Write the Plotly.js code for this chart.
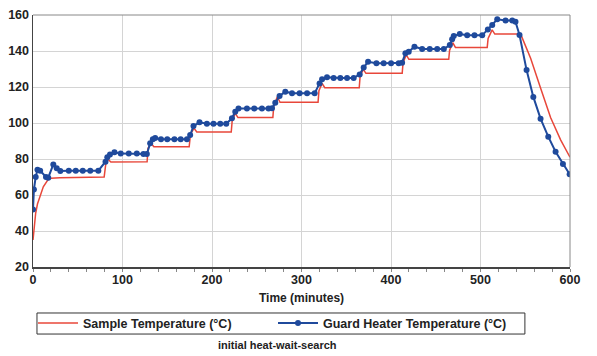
<!DOCTYPE html>
<html>
<head>
<meta charset="utf-8">
<script src="https://cdn.plot.ly/plotly-3.0.1.min.js"></script>
<style>html,body{margin:0;padding:0;background:#fff;}#chart{width:597px;height:356px;}</style>
</head>
<body>
<div id="chart"></div>
<script>
// Guard heater temperature (minutes, °C)
const guardTime = [0,1,3,5,8,14.5,17,22.7,26.5,30.5,40,47.8,55.6,64,73,
  81,83,86,91,98,107,116,123.4,127.2,
  130.9,133.9,136.5,143,150,158,165,172,
  175.6,179.3,186,194.3,201.7,209.2,215.9,
  222.3,226,229.6,239,247.2,255.8,263.2,267,
  270.7,275.5,281.9,289.4,297.9,306.2,314.7,
  320.2,323,328.5,335.9,343.4,350.9,358.3,
  365,369.5,374.4,383.7,391.8,400.1,408.6,412.4,
  416.1,419.8,426.2,434.8,443.3,451.6,459,
  465.7,468.3,470.1,476.8,485.1,493.3,501.9,
  508.2,513.1,518.7,528,535.5,539.1,543.6,551.5,559,567.1,575.7,583.9,592.1,599.6];
const guardTemp = [52,63,70,74,73.5,70,69.6,77,74.8,73.4,73.5,73.5,73.5,73.5,73.5,
  78.5,81,82.5,83.8,83,83,83,82.8,82.8,
  88.7,91,91.7,91,91,91,91,91,
  93.3,98.3,100.4,99.6,99.6,99.6,99.6,
  102.6,106.3,108.1,108,108,108,108,108.2,
  111.3,115,117.4,116.5,116.5,116.5,116.5,
  122,124.3,125.4,125,125,125,125,
  127,130.9,134,133.2,133.2,133.2,133.2,133.5,
  138.7,139.6,142.4,141.1,141.1,141.1,141.1,
  143.3,146.5,148.3,149.4,148.7,148.7,148.7,
  152,154.4,157.6,157,157,156.3,148.9,129.4,114.5,102.4,92.4,84,77.2,71.5];

// Sample temperature (minutes, °C)
const sampleTime = [0,1,3,5,8,11.5,17,20,30,60,79.5,
  81.5,84,87,100,127.5,
  128.5,132,135,174.5,
  176,180,183,221.5,
  222.5,226,229,268,
  269,273,276,318.5,
  319.5,323,326,364.5,
  365.5,369,372,412.5,
  413.5,417,420,464.5,
  465.5,469,472,507.5,
  508.5,513,516,541.7,546,549,552,556,567.1,578.3,589.5,600];
const sampleTemp = [35,41,50,55,60,64.6,68.7,69.3,69.6,69.8,70,
  78,79.8,78.3,78.3,78.5,
  86,88.7,86.8,86.8,
  94,97,95,95,
  101,105.4,103,103,
  109.5,114.6,111.5,111.5,
  118,122,119.6,119.6,
  126,129.8,127.6,127.6,
  133.5,137.8,135.4,135.4,
  140.5,144.6,142,142,
  147,151.7,149.4,149.4,148,144.5,141,136,119.5,103,90.6,81];

const xTicks = [0,100,200,300,400,500,600];
const yTicks = [20,40,60,80,100,120,140,160];

const FONT = '"Liberation Sans", Arial, sans-serif';

const traces = [
  {x: sampleTime, y: sampleTemp, type: 'scatter', mode: 'lines',
   name: 'Sample Temperature (°C)',
   line: {color: '#e8473a', width: 1.5}},
  {x: guardTime, y: guardTemp, type: 'scatter', mode: 'lines+markers',
   name: 'Guard Heater Temperature (°C)',
   line: {color: '#1f4a9c', width: 2},
   marker: {color: '#1f4a9c', size: 6}}
];

const layout = {
  width: 597, height: 356,
  margin: {l: 33, r: 27, t: 15, b: 89, autoexpand: false},
  paper_bgcolor: '#ffffff', plot_bgcolor: '#ffffff',
  font: {family: FONT, size: 12.5, color: '#222'},
  showlegend: true,
  xaxis: {
    range: [0, 600], tickvals: xTicks, ticktext: xTicks.map(String),
    showgrid: true, gridcolor: '#d4d4d4', gridwidth: 1,
    showline: true, linecolor: '#444', linewidth: 1.5, mirror: false,
    ticks: '', zeroline: false,
    tickfont: {family: FONT, size: 12.5, color: '#222', weight: 'bold'},
    title: {text: 'Time (minutes)', standoff: 8, font: {family: FONT, size: 12, color: '#222', weight: 'bold'}},
    minor: {dtick: 20, ticks: 'outside', ticklen: 3, tickcolor: '#888', showgrid: false}
  },
  yaxis: {
    range: [20, 160], tickvals: yTicks, ticktext: yTicks.map(String),
    showgrid: true, gridcolor: '#d4d4d4', gridwidth: 1,
    showline: true, linecolor: '#444', linewidth: 1.5,
    ticks: '', zeroline: false,
    tickfont: {family: FONT, size: 12.5, color: '#222', weight: 'bold'}
  },
  shapes: [
    {type: 'line', xref: 'paper', yref: 'paper', x0: 0, x1: 1, y0: 1, y1: 1, line: {color: '#888', width: 1}},
    {type: 'line', xref: 'paper', yref: 'paper', x0: 1, x1: 1, y0: 0, y1: 1, line: {color: '#888', width: 1}},
    {type: 'rect', xref: 'paper', yref: 'paper', x0: 0.0074, x1: 0.916, y0: -0.266, y1: -0.1825,
     line: {color: '#333', width: 1}, fillcolor: 'rgba(0,0,0,0)'}
  ],
  legend: {
    orientation: 'h', x: 0.0, y: -0.224, xanchor: 'left', yanchor: 'middle',
    borderwidth: 0, bgcolor: 'rgba(0,0,0,0)',
    font: {family: FONT, size: 12.5, color: '#222', weight: 'bold'},
    entrywidth: 185, entrywidthmode: 'pixels', itemwidth: 40,
    tracegroupgap: 0
  },
  annotations: [
    {text: 'initial heat-wait-search', xref: 'paper', yref: 'paper',
     x: 0.456, y: -0.31, xanchor: 'center', yanchor: 'middle', showarrow: false,
     font: {family: FONT, size: 11, color: '#222', weight: 'bold'}}
  ]
};

Plotly.newPlot('chart', traces, layout, {displayModeBar: false, staticPlot: true});
</script>
</body>
</html>
